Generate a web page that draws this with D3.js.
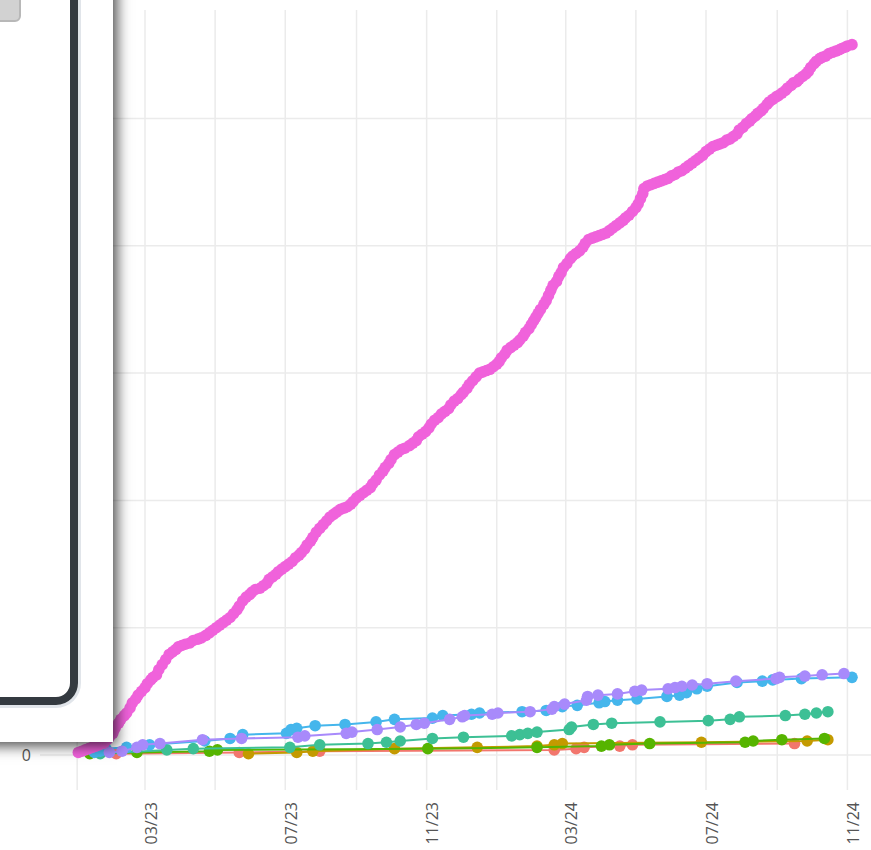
<!DOCTYPE html>
<html>
<head>
<meta charset="utf-8">
<script src="https://cdn.jsdelivr.net/npm/d3@7"></script>
<style>
  html, body { margin: 0; padding: 0; background: #fff; overflow: hidden; }
  #wrap { position: relative; width: 871px; height: 850px; overflow: hidden; background: #fff; }
  #wrap svg { position: absolute; left: 0; top: 0; }
  .panel { position: absolute; left: -20px; top: -20px; width: 133px; height: 762px;
           background: #fff; box-shadow: 4px 4px 13px rgba(0,0,0,0.7); }
  .frame { position: absolute; left: -20px; top: -20px; width: 102px; height: 729px;
           border: 8px solid #343a40; border-radius: 22px; box-shadow: 0 0 0 3px #e1e5ea; }
  .btn { position: absolute; left: 0; top: 0; width: 37px; height: 38px;
         background: #d2d2d2; border: 2px solid #b8b8b8; border-radius: 6px; }
</style>
</head>
<body>
<div id="wrap">
  <div class="panel"><div class="frame"></div><div class="btn"></div></div>
</div>
<script>
// Cumulative counts per series: [date, running total]
const seriesRed = [
  ["2023-02-04",1],["2023-05-22",2],["2023-07-31",3],["2024-02-20",4],["2024-03-10",5],
  ["2024-03-17",6],["2024-04-17",7],["2024-04-28",8],["2024-09-16",9]
];
const seriesOlive = [
  ["2023-05-30",1],["2023-07-11",2],["2023-07-25",3],["2023-10-04",5],["2023-12-15",6],
  ["2024-02-05",7],["2024-02-20",8],["2024-02-27",9],["2024-06-27",10],["2024-09-27",11],
  ["2024-10-15",12]
];
const seriesGreen = [
  ["2023-01-12",1],["2023-02-22",2],["2023-04-26",3],["2023-05-03",4],["2023-11-02",5],
  ["2024-02-05",6],["2024-04-01",7],["2024-04-08",8],["2024-05-13",9],["2024-08-04",10],
  ["2024-08-11",11],["2024-09-05",12],["2024-10-12",13]
];
const seriesTeal = [
  ["2023-01-21",1],["2023-03-20",4],["2023-04-12",5],["2023-07-05",6],["2023-07-31",8],
  ["2023-09-11",9],["2023-09-27",10],["2023-10-09",11],["2023-11-06",13],["2023-12-03",14],
  ["2024-01-14",15],["2024-01-21",16],["2024-01-28",17],["2024-02-05",18],["2024-03-04",20],
  ["2024-03-06",22],["2024-03-25",24],["2024-04-10",25],["2024-05-22",26],["2024-07-03",27],
  ["2024-07-22",28],["2024-07-30",30],["2024-09-08",31],["2024-09-25",32],["2024-10-05",33],
  ["2024-10-15",34]
];
const seriesBlue = [
  ["2023-01-16",2],["2023-01-21",3],["2023-01-26",5],["2023-02-13",6],["2023-03-05",8],
  ["2023-04-22",11],["2023-05-14",13],["2023-05-25",16],["2023-07-02",17],["2023-07-06",20],
  ["2023-07-11",21],["2023-07-27",23],["2023-08-22",24],["2023-09-18",26],["2023-10-04",28],
  ["2023-11-06",29],["2023-11-15",31],["2023-12-10",32],["2023-12-17",33],["2024-01-23",34],
  ["2024-02-13",35],["2024-02-27",38],["2024-03-11",39],["2024-03-30",41],["2024-04-04",42],
  ["2024-04-15",43],["2024-05-02",44],["2024-05-28",46],["2024-06-08",47],["2024-06-14",49],
  ["2024-06-23",52],["2024-07-02",54],["2024-07-28",57],["2024-08-19",58],["2024-08-28",59],
  ["2024-09-22",60],["2024-11-05",61]
];
const seriesPurple = [
  ["2023-01-29",2],["2023-02-09",3],["2023-02-22",6],["2023-02-27",8],["2023-03-14",9],
  ["2023-04-20",12],["2023-05-24",13],["2023-07-12",14],["2023-07-18",15],["2023-08-23",17],
  ["2023-08-28",18],["2023-09-19",20],["2023-10-09",22],["2023-10-23",24],["2023-10-30",25],
  ["2023-11-21",28],["2023-12-02",30],["2023-12-04",31],["2023-12-28",32],["2024-01-02",33],
  ["2024-01-30",34],["2024-02-18",36],["2024-02-20",38],["2024-02-29",40],["2024-03-19",43],
  ["2024-03-20",46],["2024-03-29",47],["2024-04-15",48],["2024-04-30",50],["2024-05-06",51],
  ["2024-05-29",52],["2024-06-04",53],["2024-06-10",54],["2024-06-19",55],["2024-07-02",56],
  ["2024-07-27",58],["2024-08-31",60],["2024-09-03",61],["2024-09-25",62],["2024-10-10",63],
  ["2024-10-29",64]
];
const seriesPink = [
  ["2023-01-02",2],["2023-01-05",3],["2023-01-08",4],["2023-01-11",5],["2023-01-14",6],
  ["2023-01-17",7],["2023-01-20",8],["2023-01-23",9],["2023-01-25",10],["2023-01-27",12],
  ["2023-01-29",14],["2023-02-01",17],["2023-02-03",21],["2023-02-06",25],["2023-02-08",28],
  ["2023-02-11",31],["2023-02-13",33],["2023-02-16",37],["2023-02-18",41],["2023-02-21",44],
  ["2023-02-23",47],["2023-02-26",50],["2023-03-01",53],["2023-03-03",56],["2023-03-06",59],
  ["2023-03-08",61],["2023-03-11",63],["2023-03-13",67],["2023-03-16",71],["2023-03-19",75],
  ["2023-03-22",79],["2023-03-25",81],["2023-03-28",83],["2023-03-30",85],["2023-04-02",86],
  ["2023-04-05",87],["2023-04-09",88],["2023-04-12",90],["2023-04-16",91],["2023-04-19",92],
  ["2023-04-23",94],["2023-04-26",96],["2023-04-29",98],["2023-05-02",100],["2023-05-05",102],
  ["2023-05-08",104],["2023-05-11",106],["2023-05-14",108],["2023-05-17",111],["2023-05-20",114],
  ["2023-05-22",117],["2023-05-25",121],["2023-05-28",124],["2023-05-31",126],["2023-06-02",128],
  ["2023-06-05",130],["2023-06-09",131],["2023-06-12",133],["2023-06-15",135],["2023-06-17",138],
  ["2023-06-20",140],["2023-06-23",142],["2023-06-25",144],["2023-06-28",146],["2023-07-01",148],
  ["2023-07-04",150],["2023-07-07",152],["2023-07-10",155],["2023-07-13",157],["2023-07-15",159],
  ["2023-07-18",162],["2023-07-20",165],["2023-07-23",168],["2023-07-25",171],["2023-07-28",175],
  ["2023-07-31",178],["2023-08-03",181],["2023-08-06",184],["2023-08-09",187],["2023-08-12",189],
  ["2023-08-15",191],["2023-08-18",193],["2023-08-21",194],["2023-08-24",195],["2023-08-27",197],
  ["2023-08-29",199],["2023-09-01",202],["2023-09-04",204],["2023-09-07",206],["2023-09-10",208],
  ["2023-09-13",210],["2023-09-15",213],["2023-09-18",216],["2023-09-21",220],["2023-09-24",223],
  ["2023-09-26",226],["2023-09-29",229],["2023-10-01",232],["2023-10-04",236],["2023-10-07",238],
  ["2023-10-10",240],["2023-10-13",241],["2023-10-17",243],["2023-10-20",245],["2023-10-23",247],
  ["2023-10-25",250],["2023-10-28",252],["2023-10-31",254],["2023-11-03",257],["2023-11-05",260],
  ["2023-11-08",263],["2023-11-11",265],["2023-11-14",268],["2023-11-17",270],["2023-11-20",272],
  ["2023-11-22",275],["2023-11-25",278],["2023-11-28",280],["2023-12-01",283],["2023-12-03",285],
  ["2023-12-06",288],["2023-12-08",291],["2023-12-11",294],["2023-12-14",297],["2023-12-17",300],
  ["2023-12-20",301],["2023-12-23",302],["2023-12-26",303],["2023-12-29",305],["2024-01-01",307],
  ["2024-01-03",309],["2024-01-05",312],["2024-01-08",315],["2024-01-10",318],["2024-01-13",320],
  ["2024-01-16",322],["2024-01-19",324],["2024-01-21",326],["2024-01-24",329],["2024-01-26",332],
  ["2024-01-29",335],["2024-01-31",338],["2024-02-02",341],["2024-02-04",344],["2024-02-06",347],
  ["2024-02-08",350],["2024-02-11",354],["2024-02-13",357],["2024-02-15",361],["2024-02-17",365],
  ["2024-02-19",369],["2024-02-22",372],["2024-02-24",376],["2024-02-26",379],["2024-02-28",383],
  ["2024-03-02",386],["2024-03-05",390],["2024-03-07",392],["2024-03-10",394],["2024-03-13",396],
  ["2024-03-16",399],["2024-03-18",402],["2024-03-21",405],["2024-03-24",406],["2024-03-27",407],
  ["2024-03-30",408],["2024-04-02",409],["2024-04-05",410],["2024-04-08",412],["2024-04-11",414],
  ["2024-04-14",416],["2024-04-17",418],["2024-04-20",420],["2024-04-22",422],["2024-04-25",424],
  ["2024-04-28",427],["2024-05-01",430],["2024-05-03",433],["2024-05-05",437],["2024-05-07",441],
  ["2024-05-08",445],["2024-05-11",447],["2024-05-14",448],["2024-05-17",449],["2024-05-20",450],
  ["2024-05-23",451],["2024-05-26",452],["2024-05-29",453],["2024-06-01",455],["2024-06-04",456],
  ["2024-06-07",458],["2024-06-10",459],["2024-06-13",461],["2024-06-16",463],["2024-06-19",465],
  ["2024-06-22",467],["2024-06-25",469],["2024-06-28",471],["2024-07-01",474],["2024-07-04",476],
  ["2024-07-07",478],["2024-07-10",479],["2024-07-13",480],["2024-07-16",481],["2024-07-19",483],
  ["2024-07-22",484],["2024-07-25",486],["2024-07-28",488],["2024-07-30",491],["2024-08-02",493],
  ["2024-08-05",496],["2024-08-08",498],["2024-08-10",500],["2024-08-13",502],["2024-08-15",504],
  ["2024-08-18",506],["2024-08-20",508],["2024-08-23",511],["2024-08-25",513],["2024-08-28",515],
  ["2024-08-31",517],["2024-09-02",518],["2024-09-05",520],["2024-09-08",522],["2024-09-10",524],
  ["2024-09-13",526],["2024-09-15",528],["2024-09-18",529],["2024-09-20",531],["2024-09-23",533],
  ["2024-09-26",535],["2024-09-28",537],["2024-09-30",540],["2024-10-03",543],["2024-10-05",545],
  ["2024-10-08",547],["2024-10-10",548],["2024-10-13",549],["2024-10-16",551],["2024-10-19",552],
  ["2024-10-22",553],["2024-10-25",554],["2024-10-27",555],["2024-10-30",556],["2024-11-01",557],
  ["2024-11-05",558]
];

// Axis ticks
const xLabelDates = ["2023-03-01","2023-07-01","2023-11-01","2024-03-01","2024-07-01","2024-11-01"];
const xLabelText = ["03/23","07/23","11/23","03/24","07/24","11/24"];
const xGridDates = ["2023-01-01","2023-03-01","2023-05-01","2023-07-01","2023-09-01","2023-11-01",
                    "2024-01-01","2024-03-01","2024-05-01","2024-07-01","2024-09-01","2024-11-01"];
const yTicks = [0, 100, 200, 300, 400, 500];

const seriesList = [
  { data: seriesRed,    color: "#F2766D" },
  { data: seriesOlive,  color: "#C49A00" },
  { data: seriesGreen,  color: "#56B400" },
  { data: seriesTeal,   color: "#3DC095" },
  { data: seriesBlue,   color: "#45B6EC" },
  { data: seriesPurple, color: "#A88AFB" },
  { data: seriesPink,   color: "#F062DB" }
];

const W = 871, H = 850;
const plot = { left: 40, right: 871, top: 10, bottom: 790 };
const parse = d3.utcParse("%Y-%m-%d");

const x = d3.scaleUtc()
  .domain([parse("2023-03-01"), parse("2024-11-01")])
  .range([145, 847.4]);
const y = d3.scaleLinear()
  .domain([0, 500])
  .range([755, 118.5]);

const svg = d3.select("#wrap").insert("svg", ":first-child")
  .attr("width", W).attr("height", H);

svg.append("rect").attr("width", W).attr("height", H).attr("fill", "#fff");

// grid
const grid = svg.append("g").attr("stroke", "#ebebeb").attr("stroke-width", 1.5);
grid.selectAll("line.v").data(xGridDates).join("line")
  .attr("class", "v")
  .attr("x1", d => x(parse(d))).attr("x2", d => x(parse(d)))
  .attr("y1", plot.top).attr("y2", plot.bottom);
grid.selectAll("line.h").data(yTicks).join("line")
  .attr("class", "h")
  .attr("x1", plot.left).attr("x2", plot.right)
  .attr("y1", d => y(d)).attr("y2", d => y(d));

// axes
const labelFont = "'Open Sans', 'DejaVu Sans', sans-serif";
const xAxis = d3.axisBottom(x)
  .tickValues(xLabelDates.map(parse))
  .tickFormat((d, i) => xLabelText[i])
  .tickSize(0);
const gx = svg.append("g").attr("transform", `translate(0,${plot.bottom})`).call(xAxis);
gx.select(".domain").remove();
gx.selectAll("text")
  .attr("transform", "rotate(-90)")
  .attr("x", -12).attr("y", 11).attr("dy", "0")
  .attr("text-anchor", "end")
  .attr("fill", "#555")
  .style("font-family", labelFont).style("font-size", "16px");

const yAxis = d3.axisLeft(y).tickValues(yTicks).tickFormat(d3.format("d")).tickSize(0).tickPadding(9);
const gy = svg.append("g").attr("transform", `translate(${plot.left},0)`).call(yAxis);
gy.select(".domain").remove();
gy.selectAll("text").attr("fill", "#555")
  .style("font-family", labelFont).style("font-size", "16px");

// series
svg.append("clipPath").attr("id", "plotclip").append("rect")
  .attr("x", plot.left).attr("y", plot.top)
  .attr("width", plot.right - plot.left).attr("height", plot.bottom - plot.top);
const marks = svg.append("g").attr("clip-path", "url(#plotclip)");
const line = d3.line().x(d => x(parse(d[0]))).y(d => y(d[1]));

seriesList.forEach(s => {
  const g = marks.append("g");
  g.append("path").datum(s.data)
    .attr("d", line).attr("fill", "none")
    .attr("stroke", s.color).attr("stroke-width", 2);
  g.selectAll("circle").data(s.data).join("circle")
    .attr("cx", d => x(parse(d[0]))).attr("cy", d => y(d[1]))
    .attr("r", 5.8).attr("fill", s.color);
});
</script>
</body>
</html>
